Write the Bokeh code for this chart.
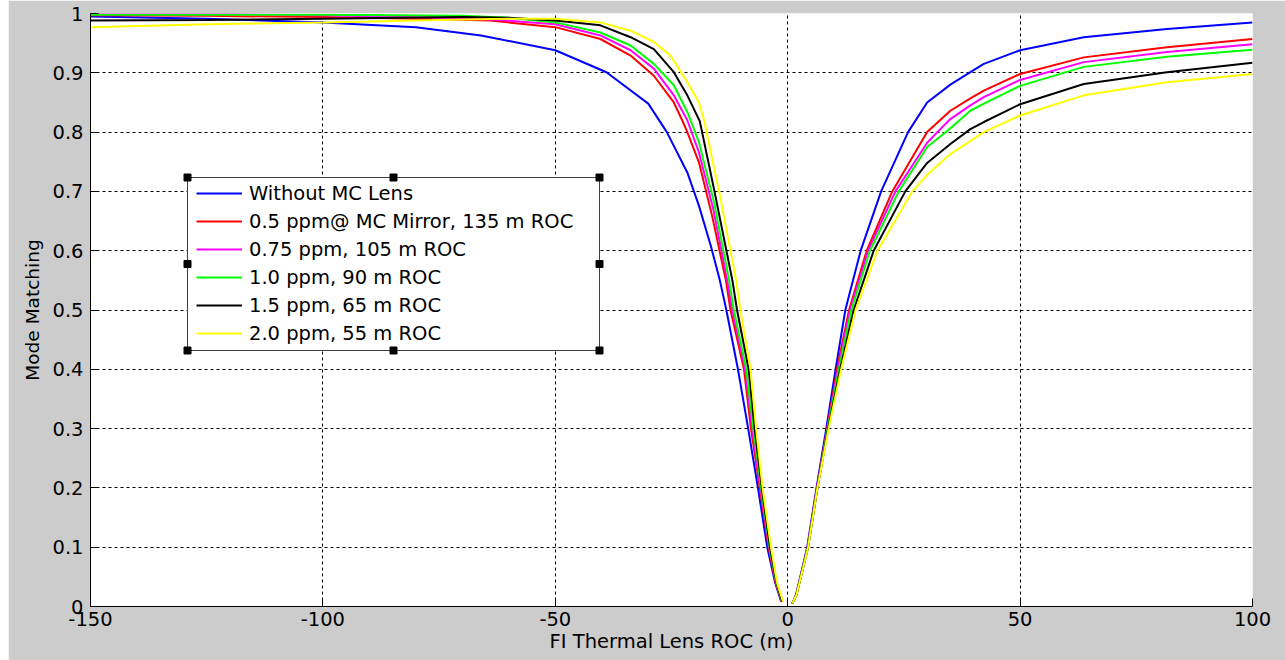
from bokeh.plotting import figure
from bokeh.models import (Range1d, FixedTicker, CustomJSTickFormatter, Legend,
                          LegendItem, BoxAnnotation)
from bokeh.embed import file_html
from bokeh.resources import INLINE

# ---------------- data ----------------
x_ticks = [-150, -100, -50, 0, 50, 100]
y_ticks = [0.0, 0.1, 0.2, 0.3, 0.4, 0.5, 0.6, 0.7, 0.8, 0.9, 1.0]

series_names = [
    "Without MC Lens",
    "0.5 ppm@ MC Mirror, 135 m ROC",
    "0.75 ppm, 105 m ROC",
    "1.0 ppm, 90 m ROC",
    "1.5 ppm, 65 m ROC",
    "2.0 ppm, 55 m ROC",
]
series_colors = ["#0000FF", "#FF0000", "#FF00FF", "#00FF00", "#000000", "#FFFF00"]

# Without MC Lens
blue_left_x = [-150, -125, -100, -80, -66, -50, -39, -30, -26, -21.6, -19.1, -16.5, -14.6, -13.2, -10.7, -8.5, -6.4, -4.4, -2.7, -1.4]
blue_left_y = [0.995, 0.991, 0.985, 0.977, 0.963, 0.938, 0.901, 0.848, 0.800, 0.732, 0.676, 0.607, 0.55, 0.50, 0.40, 0.30, 0.20, 0.10, 0.04, 0.008]
blue_right_x = [1.0, 1.8, 4.2, 6.2, 8.3, 10.3, 12.4, 15.7, 20.1, 25.9, 30.0, 35.0, 39.3, 42.2, 50, 63.7, 81.6, 100]
blue_right_y = [0.005, 0.02, 0.10, 0.20, 0.30, 0.40, 0.50, 0.60, 0.70, 0.80, 0.850, 0.880, 0.901, 0.915, 0.938, 0.960, 0.974, 0.985]

# 0.5 ppm, 135 m ROC
red_left_x = [-150, -125, -100, -80, -64, -50, -40.3, -33.8, -28.8, -24.5, -22.7, -21.6, -19.1, -16.3, -13.3, -12.3, -9.4, -7.9, -6.0, -4.1, -2.6, -1.3]
red_left_y = [0.997, 0.996, 0.994, 0.991, 0.988, 0.977, 0.957, 0.929, 0.895, 0.850, 0.820, 0.800, 0.749, 0.66, 0.55, 0.50, 0.40, 0.30, 0.20, 0.10, 0.04, 0.008]
red_right_x = [1.0, 1.85, 4.3, 6.3, 8.5, 10.6, 13.2, 17.0, 22.5, 30.0, 35.0, 39.3, 42.2, 50, 63.7, 81.6, 100]
red_right_y = [0.005, 0.02, 0.10, 0.20, 0.30, 0.40, 0.50, 0.60, 0.70, 0.80, 0.836, 0.857, 0.870, 0.898, 0.926, 0.943, 0.957]

# 0.75 ppm, 105 m ROC
mag_left_x = [-150, -121, -100, -75, -64, -50, -40.3, -33.8, -28.8, -24.5, -21.6, -19.1, -16.0, -13.0, -11.95, -9.15, -7.64, -5.86, -4.0, -2.5, -1.25]
mag_left_y = [0.999, 0.999, 0.997, 0.993, 0.990, 0.982, 0.963, 0.938, 0.907, 0.862, 0.820, 0.766, 0.67, 0.55, 0.50, 0.40, 0.30, 0.20, 0.10, 0.04, 0.008]
mag_right_x = [1.0, 1.85, 4.3, 6.35, 8.55, 10.8, 13.4, 17.3, 23.2, 30.0, 32.2, 35.0, 39.3, 42.2, 50, 63.7, 81.6, 100]
mag_right_y = [0.005, 0.02, 0.10, 0.20, 0.30, 0.40, 0.50, 0.60, 0.70, 0.782, 0.800, 0.822, 0.845, 0.859, 0.888, 0.918, 0.935, 0.948]

# 1.0 ppm, 90 m ROC
grn_left_x = [-150, -100, -70, -60, -50, -40.3, -33.8, -28.8, -24.5, -21.6, -19.1, -15.8, -12.6, -11.6, -8.9, -7.4, -5.7, -3.9, -2.45, -1.2]
grn_left_y = [0.998, 0.998, 0.996, 0.993, 0.985, 0.968, 0.946, 0.915, 0.879, 0.834, 0.783, 0.68, 0.55, 0.50, 0.40, 0.30, 0.20, 0.10, 0.04, 0.008]
grn_right_x = [1.0, 1.9, 4.35, 6.4, 8.6, 11.0, 13.7, 17.7, 23.9, 30.0, 34.5, 39.3, 42.2, 50, 63.7, 81.6, 100]
grn_right_y = [0.005, 0.02, 0.10, 0.20, 0.30, 0.40, 0.50, 0.60, 0.70, 0.775, 0.803, 0.836, 0.848, 0.878, 0.910, 0.927, 0.939]

# 1.5 ppm, 65 m ROC
blk_left_x = [-150, -125, -100, -70, -60, -50, -40.3, -33.8, -28.8, -24.5, -21.6, -18.9, -15.75, -11.9, -10.9, -8.4, -7.1, -5.55, -3.8, -2.4, -1.15]
blk_left_y = [0.988, 0.989, 0.991, 0.994, 0.993, 0.988, 0.980, 0.960, 0.940, 0.901, 0.862, 0.818, 0.70, 0.55, 0.50, 0.40, 0.30, 0.20, 0.10, 0.04, 0.008]
blk_right_x = [1.0, 1.9, 4.4, 6.4, 8.7, 11.3, 14.2, 18.5, 25.3, 30.0, 35.0, 39.3, 42.2, 50, 63.7, 81.6, 100]
blk_right_y = [0.005, 0.02, 0.10, 0.20, 0.30, 0.40, 0.50, 0.60, 0.70, 0.748, 0.780, 0.805, 0.817, 0.847, 0.881, 0.901, 0.917]

# 2.0 ppm, 55 m ROC
yel_left_x = [-150, -125, -100, -75, -60, -50, -40.3, -33.8, -28.8, -25.2, -21.6, -19.1, -18.0, -14.5, -11.1, -10.2, -8.0, -6.8, -5.4, -3.6, -2.3, -1.0]
yel_left_y = [0.977, 0.982, 0.985, 0.989, 0.991, 0.991, 0.985, 0.971, 0.952, 0.929, 0.884, 0.850, 0.820, 0.69, 0.55, 0.50, 0.40, 0.30, 0.20, 0.10, 0.04, 0.008]
yel_right_x = [1.0, 1.9, 4.4, 6.4, 8.8, 11.5, 14.6, 19.3, 26.8, 30.0, 35.0, 42.2, 50, 63.7, 81.6, 100]
yel_right_y = [0.005, 0.02, 0.10, 0.20, 0.30, 0.40, 0.50, 0.60, 0.70, 0.728, 0.763, 0.800, 0.828, 0.862, 0.884, 0.898]

series_data = [
    (blue_left_x, blue_left_y, blue_right_x, blue_right_y),
    (red_left_x, red_left_y, red_right_x, red_right_y),
    (mag_left_x, mag_left_y, mag_right_x, mag_right_y),
    (grn_left_x, grn_left_y, grn_right_x, grn_right_y),
    (blk_left_x, blk_left_y, blk_right_x, blk_right_y),
    (yel_left_x, yel_left_y, yel_right_x, yel_right_y),
]

# ---------------- figure ----------------
FONT = "DejaVu Sans"
FS = "19.5px"
W, H = 1277, 660

p = figure(width=W, height=H, output_backend="svg", toolbar_location=None,
           x_range=Range1d(-150, 100), y_range=Range1d(0, 1),
           min_border_left=82, min_border_right=33, min_border_top=13, min_border_bottom=54)
p.margin = (0, 0, 0, 8)
p.border_fill_color = "#CCCCCC"
p.background_fill_color = "white"
p.outline_line_color = None

for ax in (p.xaxis[0], p.yaxis[0]):
    ax.axis_line_color = "black"
    ax.axis_line_width = 1
    ax.major_tick_in = 8
    ax.major_tick_out = 0
    ax.minor_tick_in = 0
    ax.minor_tick_out = 0
    ax.major_tick_line_color = "black"
    ax.major_label_text_font = FONT
    ax.major_label_text_font_size = FS
    ax.major_label_text_color = "black"
    ax.axis_label_text_font = FONT
    ax.axis_label_text_font_size = FS
    ax.axis_label_text_font_style = "normal"
    ax.axis_label_text_color = "black"

p.xaxis.ticker = FixedTicker(ticks=x_ticks)
p.yaxis.ticker = FixedTicker(ticks=y_ticks)
p.yaxis.formatter = CustomJSTickFormatter(code="return tick.toFixed(1).replace(/\\.0$/, '');")
p.xaxis.formatter = CustomJSTickFormatter(code="return tick.toFixed(0);")
p.xaxis.axis_label = "FI Thermal Lens ROC (m)"
p.yaxis.axis_label = "Mode Matching"
p.yaxis.axis_label_text_font_size = "18.5px"
p.xaxis.major_label_standoff = 5
p.xaxis.axis_label_standoff = 1
p.yaxis.major_label_standoff = 7
p.yaxis.axis_label_standoff = 6

for g in (p.xgrid[0], p.ygrid[0]):
    g.grid_line_color = "black"
    g.grid_line_dash = "3 3"
    g.grid_line_width = 1
p.xgrid.ticker = FixedTicker(ticks=x_ticks)
p.ygrid.ticker = FixedTicker(ticks=y_ticks)

renderers = []
for (lx, ly, rx, ry), color in zip(series_data, series_colors):
    r = p.multi_line(xs=[lx, rx], ys=[ly, ry], line_color=color, line_width=2)
    renderers.append(r)

# legend box (MATLAB selected-legend look)
box_left, box_right, box_bottom, box_top = 97, 509, 256, 429
box = BoxAnnotation(left=box_left, right=box_right, bottom=box_bottom, top=box_top,
                    left_units="screen", right_units="screen",
                    bottom_units="screen", top_units="screen",
                    fill_color="white", fill_alpha=1.0,
                    line_color="#404040", line_alpha=1.0, line_width=1, line_dash="solid")
p.add_layout(box)

legend = Legend(items=[LegendItem(label=n, renderers=[r]) for n, r in zip(series_names, renderers)],
                location=(106, 261), padding=0, spacing=4, margin=0,
                glyph_width=46, glyph_height=24, label_height=24, label_standoff=7,
                label_text_font=FONT, label_text_font_size=FS, label_text_color="black",
                border_line_alpha=0, background_fill_alpha=0)
p.add_layout(legend)

mid_x = (box_left + box_right) / 2
mid_y = (box_bottom + box_top) / 2
hs = 3.5
for hx, hy in [(box_left, box_top), (mid_x, box_top), (box_right, box_top),
               (box_left, mid_y), (box_right, mid_y),
               (box_left, box_bottom), (mid_x, box_bottom), (box_right, box_bottom)]:
    p.add_layout(BoxAnnotation(left=hx - hs, right=hx + hs, bottom=hy - hs, top=hy + hs,
                               left_units="screen", right_units="screen",
                               bottom_units="screen", top_units="screen",
                               fill_color="black", fill_alpha=1.0,
                               line_color="black", line_alpha=1.0, line_dash="solid"))

open("out.html", "w").write(file_html(p, INLINE))
